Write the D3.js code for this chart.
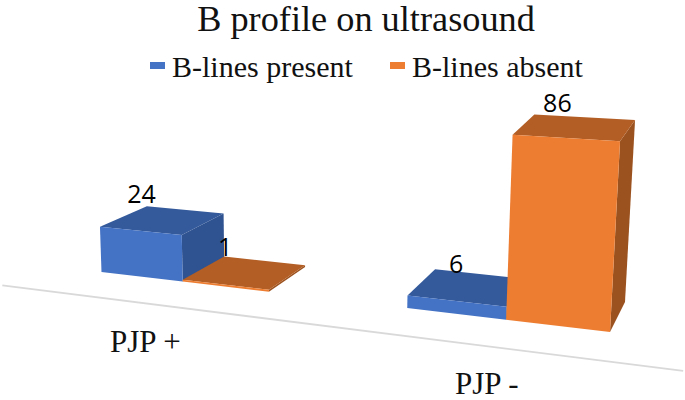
<!DOCTYPE html>
<html>
<head>
<meta charset="utf-8">
<script src="https://cdn.jsdelivr.net/npm/d3@7"></script>
<style>
  html, body { margin: 0; padding: 0; background: #fff; overflow: hidden; }
  svg { display: block; }
</style>
</head>
<body>
<svg id="viz" width="685" height="400"></svg>
<script>
const categories = ["PJP +", "PJP -"];
const seriesNames = ["B-lines present", "B-lines absent"];
const presentValues = [24, 6];
const absentValues = [1, 86];
const chartTitle = "B profile on ultrasound";

const palette = {
    "B-lines present": { front: "#4472c4", top: "#345a9c", side: "#2f5290" },
    "B-lines absent": { front: "#ed7d31", top: "#b35e24", side: "#9c521f" }
};

// floor of the chart as seen on screen: front and back edge
const floorFront = [[101.5, 272], [610, 332]];
const floorBack = [[148, 250], [625, 302]];
const WARP = 0.15; // bars get wider to the right
const LABEL_FONT = "'Open Sans', sans-serif";
const SERIF_FONT = "'Liberation Serif', serif";

const svg = d3.select("#viz");

const x0 = d3.scaleBand().domain(categories).range([0, 1]).paddingInner(0.4277);
const x1 = d3.scaleBand().domain(seriesNames).range([0, x0.bandwidth()]);
const y = d3.scaleLinear().domain([0, 86]).range([0, 188]);

const lerp = (a, b, t) => a + (b - a) * t;

const floorPoint = (w, v) => [
    lerp(lerp(floorFront[0][0], floorFront[1][0], w), lerp(floorBack[0][0], floorBack[1][0], w), v),
    lerp(lerp(floorFront[0][1], floorFront[1][1], w), lerp(floorBack[0][1], floorBack[1][1], w), v)
];

// world (u along the axis, v into the page, value up) to screen
const project = (u, v, value) => {
    const [fx, fy] = floorPoint(u + WARP * u * (u - 1), v);
    const h = y(value) * (1 + (fx - 560) * 0.0003) * (1 - 0.05 * v);
    return [fx + (fx - 300) * 0.00017 * h, fy - h];
};

const bars = [];
categories.forEach((category, i) => {
    bars.push({ category, series: seriesNames[0], value: presentValues[i] });
    bars.push({ category, series: seriesNames[1], value: absentValues[i] });
});

const barLeft = d => x0(d.category) + x1(d.series);
const barRight = d => barLeft(d) + x1.bandwidth();
const barMid = d => (barLeft(d) + barRight(d)) / 2;

const poly = pts => pts.map(p => p.join(",")).join(" ");

// axis line sits in front of the bars
svg.append("path")
    .attr("d", d3.line()([floorPoint(-0.104, -0.93), floorPoint(1.162, -0.93)]))
    .attr("stroke", "#d9d9d9")
    .attr("stroke-width", 1.8)
    .attr("fill", "none");

const barG = svg.selectAll("g.bar").data(bars).join("g").attr("class", "bar");

barG.append("polygon")
    .attr("fill", d => palette[d.series].side)
    .attr("points", d => poly([
        project(barRight(d), 0, 0), project(barRight(d), 1, 0),
        project(barRight(d), 1, d.value), project(barRight(d), 0, d.value)
    ]));

barG.append("polygon")
    .attr("fill", d => palette[d.series].top)
    .attr("points", d => poly([
        project(barLeft(d), 0, d.value), project(barRight(d), 0, d.value),
        project(barRight(d), 1, d.value), project(barLeft(d), 1, d.value)
    ]));

barG.append("polygon")
    .attr("fill", d => palette[d.series].front)
    .attr("points", d => poly([
        project(barLeft(d), 0, 0), project(barRight(d), 0, 0),
        project(barRight(d), 0, d.value), project(barLeft(d), 0, d.value)
    ]));

// value labels float over the front top edge
svg.selectAll("text.value").data(bars).join("text")
    .attr("class", "value")
    .attr("x", d => project(barMid(d), 0, 0)[0])
    .attr("y", d => project(barMid(d), 0, d.value * 0.985)[1] - 38.5)
    .attr("text-anchor", "middle")
    .attr("dominant-baseline", "central")
    .attr("font-family", LABEL_FONT)
    .attr("font-size", 25)
    .attr("fill", "#000")
    .text(d => d.value);

// category labels
svg.selectAll("text.cat").data(categories).join("text")
    .attr("class", "cat")
    .attr("x", d => project(x0(d) + x0.bandwidth() / 2, -0.9, 0)[0])
    .attr("y", d => project(x0(d) + x0.bandwidth() / 2, -0.9, 0)[1] + 49)
    .attr("text-anchor", "middle")
    .attr("font-family", SERIF_FONT)
    .attr("font-size", 31)
    .attr("fill", "#111")
    .text(d => d);

svg.append("text")
    .attr("x", 366)
    .attr("y", 31)
    .attr("text-anchor", "middle")
    .attr("font-family", SERIF_FONT)
    .attr("font-size", 36.3)
    .attr("fill", "#111")
    .text(chartTitle);

// legend
const legendX = d3.scaleOrdinal().domain(seriesNames).range([150, 390]);
const legend = svg.selectAll("g.legend").data(seriesNames).join("g")
    .attr("class", "legend")
    .attr("transform", d => `translate(${legendX(d)},0)`);
legend.append("rect")
    .attr("y", 62)
    .attr("width", 15)
    .attr("height", 7)
    .attr("fill", d => palette[d].front);
legend.append("text")
    .attr("x", 22)
    .attr("y", 77)
    .attr("font-family", SERIF_FONT)
    .attr("font-size", 30)
    .attr("fill", "#111")
    .text(d => d);
</script>
</body>
</html>
